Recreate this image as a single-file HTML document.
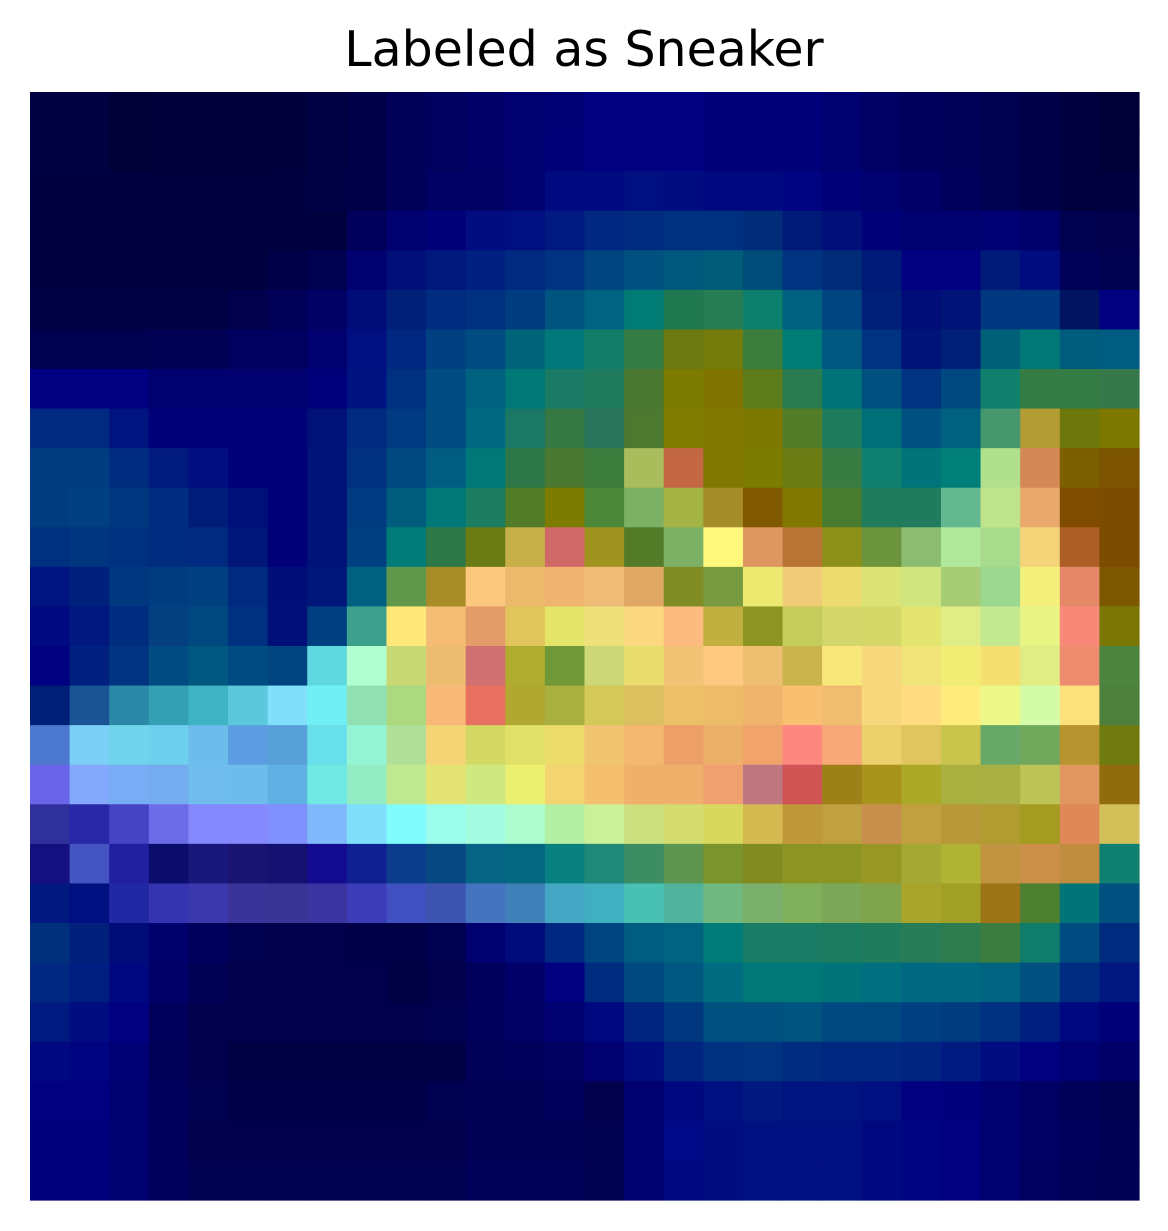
<!DOCTYPE html>
<html><head><meta charset="utf-8"><style>
html,body{margin:0;padding:0;background:#fff;width:1168px;height:1231px;overflow:hidden}
#title{position:absolute;left:0;width:1168px;top:21px;text-align:center;font-family:"DejaVu Sans","Liberation Sans",sans-serif;font-size:49px;color:#000}
svg{position:absolute;left:0;top:0}
</style></head><body>
<svg id="chart" width="1168" height="1231"></svg>
<div id="title">Labeled as Sneaker</div>
<script>
const rows = [
"010040 010040 000038 00003a 00003a 00003a 00003c 000042 000048 000058 00005e 000068 000070 000075 000080 000080 000080 000078 000078 000078 000070 000064 00005c 000058 000050 000048 00003e 000038",
"010040 010040 000038 00003a 00003a 00003a 00003c 000042 000048 000058 00005e 000068 000070 000078 000080 000080 000080 000078 000078 000078 000070 000064 00005c 000058 000050 000048 00003e 000038",
"000040 000040 00003e 00003e 00003e 00003e 000040 000044 000048 000058 000065 000065 00006f 000a80 000a80 001080 000c80 000880 000880 000480 000078 000070 000068 00005c 000050 000048 00003e 000040",
"00003e 00003e 00003e 00003e 00003e 00003e 00003e 00003e 00005a 000070 000078 000c80 001080 001a80 002880 002c80 003080 003080 002c78 001a78 001078 000078 000070 000070 000074 00006c 000050 00004c",
"00003f 00003f 00003f 00003f 00003f 00003f 000048 000050 000070 001078 00187c 002080 002a80 003480 004480 005080 00587c 005c78 004c78 003480 002c78 001a78 000080 000080 001a78 000c80 000058 000050",
"000044 000044 000044 000044 000044 00004c 000056 000065 000c78 002078 002c80 003080 003c80 005480 006480 007c74 207850 287c54 0c806c 006080 004480 002078 000c78 001478 003880 003880 001460 000080",
"000050 000050 000050 000054 000054 000060 000060 000070 001080 002880 004080 004c80 006478 00787a 137c68 357c44 6c7810 747c0c 3c7c3c 007c74 005880 003480 001478 002078 006078 007878 005c7c 005c80",
"000080 000080 000080 00006e 00006e 00006e 00006e 00007a 001280 003080 004c80 006080 007878 1a7a64 1e7c5c 4a7830 7c7c00 807400 5c7c1c 2a7c50 007478 005080 003480 004880 10806c 357c44 357c44 35784a",
"002a80 002a80 001480 000078 000078 000078 000078 001278 002a80 003a80 004c80 006880 1a7864 357844 28745a 4c7830 807c00 807800 7c7800 537c28 1e7c5c 007078 005080 006080 46986c b49c34 6c780c 7c7800",
"003c80 003c80 002c80 001a7e 000e80 000078 000078 001478 003080 004880 005c80 007878 2e7848 4a7830 3c7c3c aabc5c c46844 807800 7c7c00 6c7c14 387c44 108070 007478 008078 b0e08c d48858 7c6000 7c5400",
"003c80 004080 003880 002c80 001c78 00107a 000078 001478 003a80 005c7c 007878 1b7c60 537c28 7c7c00 4c8838 7cb064 a4b444 a48c28 805800 807800 4a7c30 207c5c 207c5c 64b890 c0e48c eaa86c 804c00 7c4c00",
"003080 003680 003080 002c80 002a80 001678 000078 001478 004080 007c78 2e7848 6c7c14 c8b048 d06868 a09420 547c28 7cb064 fff87c dc9860 b87434 8c9018 6c943c 8cbc70 b0e89c a8dc8c f4d478 ac6028 7c4c00",
"001480 00207e 003880 003c80 004080 002a80 000e78 001678 006080 62984c a88c28 fcc880 ecb86c f0b470 f0bc78 e0a864 808c24 789a40 ece870 f0cc78 ecdc70 dce478 d0e480 a8cc74 9cd890 f4f07c e48868 7c5800",
"000a80 001880 002c80 044080 004880 003080 001078 004080 3ca08c ffe878 f4bc74 e49c68 e0c45c e4e468 f0e07c fcd880 fcbc80 c0b040 8c9424 c4cc5c d4d86c d4d868 e4e470 e0ec84 c4e890 e8f484 f88878 7c7808",
"000080 002080 003480 004c80 005880 004c80 004480 60d8e0 b0ffd0 c8d874 ecbc70 d07070 b0ac30 709838 ccd878 e8dc6c f0c474 ffc880 ecc070 ccb44c f8e87c f8d87c f0e478 f0ec74 f4e070 e0ec84 ee8c70 4c8440",
"002078 1a5494 2c88a8 34a0b4 40b4c4 5cc8dc 80e0fc 70f0f4 90e0b4 acd880 f8b878 e87060 b0a830 a8b040 d4c858 dcc060 ecc068 ecbc68 f0b46c f8c070 f0bc70 f8d87c ffdc80 ffec7c ecf888 d4fca8 fce07c 4c803c",
"4c78d0 7cd0f8 70d4ec 6cd0ec 6cbcec 5c9ce0 58a0d8 68e0ec 94f4d4 b0e098 f4d474 d4d864 e0e068 ecdc6c f0c470 f4b870 eca068 ecb068 f0a46c fc8880 f8a878 ecd06c e0c460 c8c44c 68a868 70a85c b89430 707c10",
"6a64e8 84a8fc 78acf4 74acf0 70bcec 6cbcec 60b0e4 70e8e4 94ecc4 c0e890 e4e474 d0e880 ecf070 f4d470 f4c070 f0b06c f0b06c f0a070 c07880 d05454 9c8018 a8941c aca828 a8b040 a8b044 bcc458 e09860 906c0c",
"30309c 2828a8 4444c4 6c6ce8 8488fc 8488fc 8090fc 80b8fc 80e0fc 80fcfc 9cfcec a4fce0 acfcd0 b4f0a4 ccf098 cce080 d4dc70 d8d85c d4b850 c0983c c0a040 c8904c c0a040 b89838 b09c30 a49c20 e08858 d4c058",
"141080 4454c0 2020a0 0c0c6c 18187c 181470 141070 140c90 102090 0c3c8c 084880 086484 046880 088080 208878 3c8c64 5c9450 7c942c 808c20 8c9424 8c9424 989824 a4a834 b0b434 c09440 cc9048 c08c40 108070",
"001880 001080 2228a4 3434b0 3a38ac 3a3498 383494 3a34a0 3c3cb8 4050c0 3c54b0 4474c0 4080b8 44a8c4 40b0c0 48c0b4 50b49c 70b880 7ab06c 80b05c 7aa858 80a44c a8a42c a0a024 9c7418 4c8030 007478 005080",
"00307c 00207c 000c78 00006c 00005c 000050 00004c 00004c 000048 000048 000050 000070 000c7c 002880 004480 005c80 006480 007c78 1a7c64 1a7c64 1c7c60 207c5c 287c58 2e7c50 3c7c40 107c6c 004c80 002c80",
"002880 001e80 000880 000068 000054 00004c 00004c 00004c 00004c 000044 00004c 00005c 000068 000080 002c80 004880 005880 006c80 007878 007878 007478 007080 006880 006880 006480 005080 002c80 001880",
"001a80 000c80 000080 00005c 00004c 00004c 00004c 00004c 00004c 00004c 000050 00005c 000064 000070 000880 002480 003880 005080 005080 005480 004880 004880 004080 003c80 003080 002080 000880 000078",
"000880 000480 000074 000058 00004c 000044 000044 000044 000044 000044 000044 000058 00005c 000060 000070 000c80 002480 003080 003480 002c80 002880 002880 002480 001c80 000c80 000080 000074 000068",
"000080 000080 000070 00005c 000050 000048 000048 000048 000048 000048 000050 000054 000054 00005c 00004c 000070 000880 001080 001880 001480 001480 001080 000080 00007c 000070 000064 000058 000050",
"00007c 00007c 000070 00005c 00004c 00004c 00004c 00004c 00004c 00004c 00004c 000054 000054 000054 000050 000070 000a88 000c80 001080 001080 001080 000880 000480 000080 000070 000064 00005c 000054",
"00007c 00007c 000070 00005c 000050 000050 000050 000050 000050 000050 000050 000058 000058 000058 000050 000070 000880 000c80 001080 001080 001080 000880 000480 000080 000070 000060 000058 000054"
];
const NS = "http://www.w3.org/2000/svg";
const svg = document.getElementById('chart');
const x0 = 30, y0 = 92, W = 1109, H = 1108;
const cols = rows[0].split(' ').length, nr = rows.length;
const xs = i => x0 + W * i / cols, ys = j => y0 + H * j / nr;
rows.forEach((r, j) => {
  r.split(' ').forEach((c, i) => {
    const rect = document.createElementNS(NS, 'rect');
    rect.setAttribute('x', xs(i).toFixed(2));
    rect.setAttribute('y', ys(j).toFixed(2));
    rect.setAttribute('width', (xs(i + 1) - xs(i) + 0.6).toFixed(2));
    rect.setAttribute('height', (ys(j + 1) - ys(j) + 0.6).toFixed(2));
    rect.setAttribute('fill', '#' + c);
    
    
    svg.appendChild(rect);
  });
});
</script>
</body></html>
